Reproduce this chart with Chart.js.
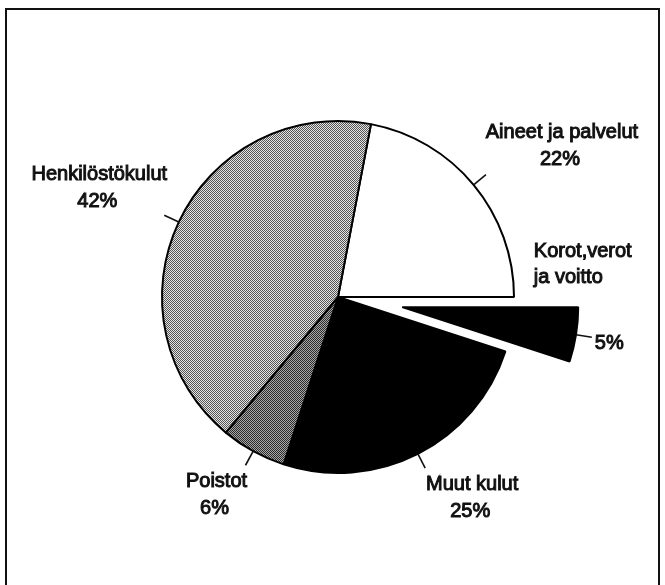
<!DOCTYPE html>
<html>
<head>
<meta charset="utf-8">
<script src="https://cdn.jsdelivr.net/npm/chart.js@4.4.0/dist/chart.umd.min.js"></script>
<style>
	html, body { margin: 0; padding: 0; background: #fff; }
	canvas { display: block; }
</style>
</head>
<body>
<canvas id="myChart" width="665" height="585"></canvas>
<script>
// chart data
const labels = ['Aineet ja palvelut', 'Korot,verot\nja voitto', 'Muut kulut', 'Poistot', 'Henkilöstökulut']
const shares = [22, 5, 25, 6, 42]
// how far each slice is pulled out of the pie (px)
const explode = [0, 65, 0, 0, 0]

// where each label sits, relative to the end of its leader stub
const labelPlace = [
	{ dx: 76, dy: -42, align: 'center' },
	{ dx: -58, dy: -86, align: 'left', pct: { dx: 3, dy: 6 } },
	{ dx: 47, dy: 16, align: 'center' },
	{ dx: -29, dy: 16, align: 'center' },
	{ dx: -65, dy: -41, align: 'center' }
]

const ctx = document.querySelector('#myChart').getContext('2d')

// dithered fills like the scanned original
function dither(dark, light) {
	const c = document.createElement('canvas')
	c.width = 2
	c.height = 2
	const g = c.getContext('2d')
	g.fillStyle = light
	g.fillRect(0, 0, 2, 2)
	g.fillStyle = dark
	g.fillRect(0, 0, 1, 1)
	g.fillRect(1, 1, 1, 1)
	return ctx.createPattern(c, 'repeat')
}

function heavyText(g, text, x, y) {
	g.fillText(text, x, y)
	g.strokeText(text, x, y)
}

function midAngle(arc) {
	const { startAngle, endAngle } = arc.getProps(['startAngle', 'endAngle'], true)
	return (startAngle + endAngle) / 2
}

// frame round the figure
const framePlugin = {
	id: 'frame',
	beforeDraw: chart => {
		const g = chart.ctx
		g.save()
		g.fillStyle = '#fff'
		g.fillRect(0, 0, chart.width, chart.height)
		g.strokeStyle = '#111'
		g.lineWidth = 2
		g.beginPath()
		g.moveTo(6, chart.height)
		g.lineTo(6, 9)
		g.lineTo(659, 9)
		g.lineTo(659, chart.height)
		g.stroke()
		g.restore()
	}
}

// pull exploded slices straight out along their middle angle
const explodePlugin = {
	id: 'explode',
	beforeDatasetsDraw: chart => {
		chart.getDatasetMeta(0).data.forEach((arc, i) => {
			if (!explode[i] || arc._exploded) return
			const draw = arc.draw.bind(arc)
			arc.draw = c => {
				const mid = midAngle(arc)
				c.save()
				c.translate(Math.cos(mid) * explode[i], Math.sin(mid) * explode[i])
				draw(c)
				c.restore()
			}
			arc._exploded = true
		})
	}
}

// leader stubs and labels
const labelPlugin = {
	id: 'sliceLabels',
	afterDatasetsDraw: chart => {
		const g = chart.ctx
		const meta = chart.getDatasetMeta(0)
		g.save()
		g.font = '20px "Liberation Sans", Arial, sans-serif'
		g.fillStyle = '#111'
		g.strokeStyle = '#111'
		g.textBaseline = 'middle'
		meta.data.forEach((arc, i) => {
			const { x, y, outerRadius } = arc.getProps(['x', 'y', 'outerRadius'], true)
			const mid = midAngle(arc)
			const cx = x + Math.cos(mid) * explode[i]
			const cy = y + Math.sin(mid) * explode[i]
			const r1 = outerRadius + 16
			const ex = cx + Math.cos(mid) * r1
			const ey = cy + Math.sin(mid) * r1
			g.lineWidth = 1.6
			g.beginPath()
			g.moveTo(cx + Math.cos(mid) * outerRadius, cy + Math.sin(mid) * outerRadius)
			g.lineTo(ex, ey)
			g.stroke()

			const p = labelPlace[i]
			const lines = labels[i].split('\n')
			const pct = shares[i] + '%'
			g.lineWidth = 1
			g.textAlign = p.align
			if (p.pct) {
				lines.forEach((t, k) => heavyText(g, t, ex + p.dx, ey + p.dy + k * 26))
				g.textAlign = 'left'
				heavyText(g, pct, ex + p.pct.dx, ey + p.pct.dy)
			} else {
				lines.forEach((t, k) => heavyText(g, t, ex + p.dx, ey + p.dy + k * 27))
				heavyText(g, pct, ex + p.dx - 2, ey + p.dy + lines.length * 27)
			}
		})
		g.restore()
	}
}

const myChart = new Chart(ctx, {
	type: 'pie',
	data: {
		labels: labels,
		datasets: [
			{
				data: shares,
				backgroundColor: [
					'#ffffff',
					'#000000',
					'#000000',
					dither('#2a2a2a', '#a8a8a8'),
					dither('#555555', '#e4e4e4')
				],
				borderColor: '#000',
				borderWidth: 2,
				radius: 176
			}
		]
	},
	options: {
		responsive: false,
		animation: false,
		events: [],
		rotation: 10.8,
		layout: { padding: { left: 11, top: 9, right: 0, bottom: 0 } },
		plugins: {
			legend: { display: false },
			tooltip: { enabled: false }
		}
	},
	plugins: [framePlugin, explodePlugin, labelPlugin]
})
</script>
</body>
</html>
